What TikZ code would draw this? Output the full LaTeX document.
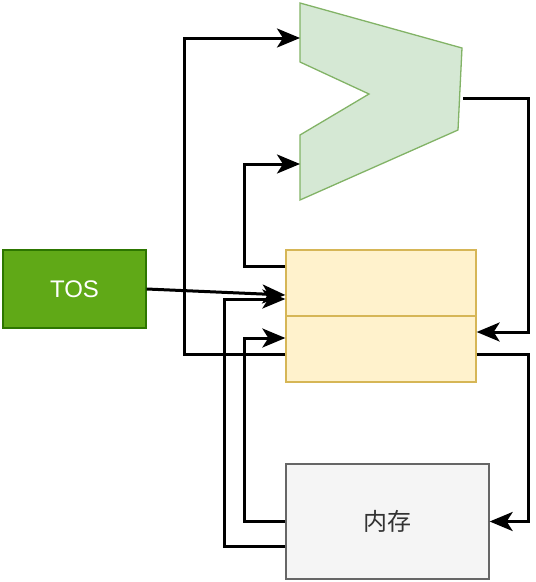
\documentclass[tikz,border=0pt]{standalone}
\usepackage{fontspec}
\setmainfont{Liberation Sans}
\newfontfamily\cjk{Noto Sans CJK SC}
\usetikzlibrary{arrows.meta}
\definecolor{alufill}{HTML}{D5E8D4}
\definecolor{aluline}{HTML}{82B366}
\definecolor{regfill}{HTML}{FFF2CC}
\definecolor{regline}{HTML}{D6B656}
\definecolor{tosfill}{HTML}{60A917}
\definecolor{tosline}{HTML}{2D7600}
\definecolor{memfill}{HTML}{F5F5F5}
\definecolor{memline}{HTML}{666666}
\definecolor{memtext}{HTML}{333333}

\begin{document}
\begin{tikzpicture}[x=1pt,y=-1pt,
    box/.style={draw,line width=1.3pt,inner sep=0pt,font=\fontsize{24}{28}\selectfont},
    reg/.style={box,fill=regfill,draw=regline,minimum width=190pt,minimum height=66pt},
    link/.style={line width=3pt,-{Stealth[length=23pt,width=19pt,inset=6pt]}}]
        \useasboundingbox (0,0) rectangle (536,582);

        % 运算器
        \draw[fill=alufill,draw=aluline,line width=1.3pt]
            (300,3) -- (462,48) -- (458,130) -- (300,200) -- (300,135)
            -- (369,94) -- (300,62) -- cycle;
        \coordinate (alua) at (300,38);
        \coordinate (alub) at (300,164);
        \coordinate (aluo) at (463,98);

        % 寄存器、TOS 与内存
        \node[reg] (upper) at (381,283) {};
        \node[reg] (lower) at (381,349) {};
        \node[box,fill=tosfill,draw=tosline,text=white,
              minimum width=143pt,minimum height=78pt] (tos) at (74.5,289) {TOS};
        \node[box,fill=memfill,draw=memline,text=memtext,
              minimum width=203pt,minimum height=115pt] (mem) at (387.5,521.5) {\cjk 内存};

        % 连线
        \draw[link] (tos.east) -- ([yshift=-12pt]upper.west);
        \draw[link] ([yshift=17pt]upper.west) -- ++(-41,0) |- (alub);
        \draw[link] ([yshift=-5pt]lower.west) -- ++(-101,0) |- (alua);
        \draw[link] (mem.west) -- ++(-41,0) |- ([yshift=11pt]lower.west);
        \draw[link] ([yshift=-24.5pt]mem.west) -- ++(-61,0) |- ([yshift=-16pt]upper.west);
        \draw[link] (aluo) -- ++(65,0) |- ([yshift=17pt]lower.east);
        \draw[link] ([yshift=-5pt]lower.east) -- ++(52,0) |- (mem.east);
    \end{tikzpicture}
\end{document}
